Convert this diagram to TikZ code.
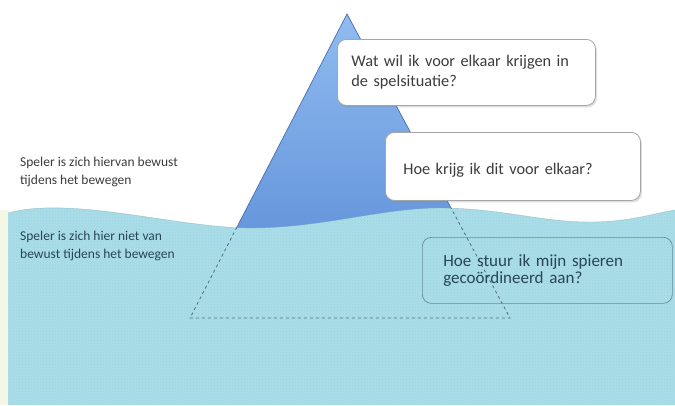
\documentclass[tikz,border=0pt]{standalone}
\usepackage{fontspec}
\setmainfont{Carlito}
\usetikzlibrary{shadows,patterns}
\definecolor{water}{RGB}{170,221,232}
\definecolor{waterdot}{RGB}{140,200,215}
\definecolor{cream}{RGB}{244,246,230}
\definecolor{icetop}{RGB}{145,188,240}
\definecolor{icebot}{RGB}{85,135,212}
\definecolor{iceline}{RGB}{70,110,175}
\definecolor{dashline}{RGB}{80,110,135}
\definecolor{boxline}{RGB}{165,165,165}
\definecolor{txt}{RGB}{60,60,60}
\definecolor{deeptxt}{RGB}{40,70,85}
\definecolor{box3line}{RGB}{100,140,155}
\tikzset{
  bubble/.style={draw=boxline, line width=0.8pt, fill=white, rounded corners=9pt,
    drop shadow={opacity=0.25, shadow xshift=1.5pt, shadow yshift=-2pt},
    anchor=north west, align=left, font=\fontsize{16.3}{20}\selectfont, text=txt},
  deepbox/.style={draw=box3line, line width=0.7pt, rounded corners=9pt,
    anchor=north west, align=left, font=\fontsize{17}{17.5}\selectfont, text=deeptxt},
  sidetext/.style={anchor=north west, align=left, font=\fontsize{13.5}{17.5}\selectfont, inner sep=0pt},
}
\def\wavepath{(8,213) .. controls (70,196) and (170,226) .. (245,228)
  .. controls (320,229) and (380,208) .. (440,208)
  .. controls (500,208) and (540,222) .. (590,222)
  .. controls (630,222) and (655,213) .. (675,210)}
\begin{document}
\begin{tikzpicture}[x=1pt,y=-1pt]
\useasboundingbox (0,0) rectangle (675,405);
\fill[white] (0,0) rectangle (675,405);
\fill[cream] (0,210) rectangle (8,405);
% iceberg corners
\coordinate (apex) at (347,14);
\coordinate (bl) at (190,318);
\coordinate (br) at (510,318);
% iceberg body
\shade[top color=icetop, bottom color=icebot] (apex) -- (bl) -- (br) -- cycle;
% water
\fill[water] \wavepath -- (675,405) -- (8,405) -- cycle;
\fill[pattern=crosshatch dots, pattern color=waterdot, opacity=0.5] \wavepath -- (675,405) -- (8,405) -- cycle;
\draw[waterdot!80!black, line width=0.4pt, opacity=0.5] \wavepath;
% outlines: solid above water, dashed below
\begin{scope}
  \clip (0,0) -- \wavepath -- (675,0) -- cycle;
  \draw[iceline, line width=0.7pt] (bl) -- (apex) -- (br);
\end{scope}
\begin{scope}
  \clip \wavepath -- (675,405) -- (8,405) -- cycle;
  \draw[dashline, line width=0.8pt, dashed] (apex) -- (bl) -- (br) -- (apex);
\end{scope}
% boxes
\node[bubble, minimum width=258pt, minimum height=66pt, text width=230pt, inner xsep=14pt] (q1) at (337,39)
  {Wat wil ik voor elkaar krijgen in\\de spelsituatie?};
\node[bubble, minimum width=255pt, minimum height=68pt, text width=219pt, inner xsep=18pt,
  text height=20pt, text depth=3pt] (q2) at (385,132)
  {Hoe krijg ik dit voor elkaar?};
\node[deepbox, minimum width=250pt, minimum height=66pt, text width=208pt, inner xsep=21pt] (q3) at (422,237)
  {Hoe stuur ik mijn spieren\\gecoördineerd aan?};
% side texts
\node[sidetext, text=txt] (aware) at (20,157) {Speler is zich hiervan bewust\\tijdens het bewegen};
\node[sidetext, text=deeptxt] (unaware) at (20,231) {Speler is zich hier niet van\\bewust tijdens het bewegen};
\end{tikzpicture}
\end{document}
